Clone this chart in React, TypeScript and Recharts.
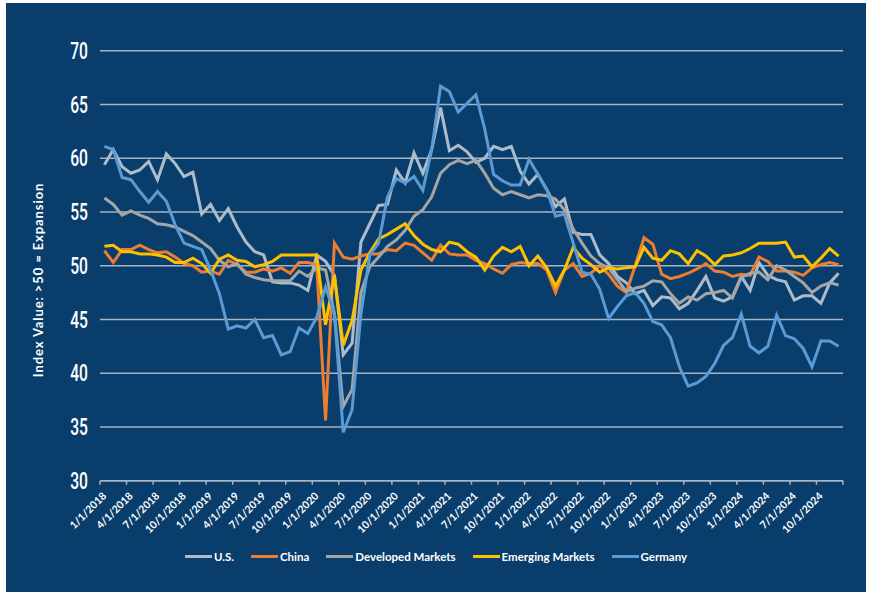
import { LineChart, Line, XAxis, YAxis, CartesianGrid } from "recharts";

// monthly readings, Jan 2018 .. Dec 2024
const months = Array.from({ length: 84 }, (_, i) => `${(i % 12) + 1}/1/${2018 + Math.floor(i / 12)}`);

const tickLabels = [
  "1/1/2018", "4/1/2018", "7/1/2018", "10/1/2018",
  "1/1/2019", "4/1/2019", "7/1/2019", "10/1/2019",
  "1/1/2020", "4/1/2020", "7/1/2020", "10/1/2020",
  "1/1/2021", "4/1/2021", "7/1/2021", "10/1/2021",
  "1/1/2022", "4/1/2022", "7/1/2022", "10/1/2022",
  "1/1/2023", "4/1/2023", "7/1/2023", "10/1/2023",
  "1/1/2024", "4/1/2024", "7/1/2024", "10/1/2024",
];

const yTicks = [30, 35, 40, 45, 50, 55, 60, 65, 70];

const us = [
  59.4, 60.8, 59.2, 58.6, 58.9, 59.7, 58.0, 60.4, 59.5, 58.3, 58.7, 54.8,
  55.7, 54.2, 55.3, 53.6, 52.2, 51.3, 51.0, 48.5, 48.4, 48.4, 48.2, 47.7,
  51.0, 50.4, 49.1, 41.7, 42.8, 52.2, 53.9, 55.6, 55.7, 58.9, 57.7, 60.5,
  58.6, 60.8, 64.7, 60.7, 61.2, 60.6, 59.6, 60.0, 61.1, 60.8, 61.1, 58.8,
  57.6, 58.5, 57.1, 55.5, 56.2, 53.1, 52.9, 52.9, 51.0, 50.2, 49.0, 48.4,
  47.4, 47.7, 46.3, 47.1, 47.0, 46.0, 46.5, 47.7, 49.0, 47.0, 46.7, 47.1,
  49.0, 47.7, 50.3, 49.1, 48.7, 48.5, 46.8, 47.2, 47.2, 46.5, 48.4, 49.3,
];

const china = [
  51.4, 50.3, 51.5, 51.5, 51.9, 51.5, 51.2, 51.3, 50.8, 50.2, 50.0, 49.4,
  49.5, 49.2, 50.5, 50.1, 49.4, 49.4, 49.7, 49.5, 49.8, 49.3, 50.3, 50.3,
  50.1, 35.6, 52.1, 50.8, 50.6, 50.9, 51.1, 51.1, 51.5, 51.4, 52.1, 51.9,
  51.2, 50.5, 51.9, 51.1, 51.0, 51.0, 50.5, 50.2, 49.7, 49.3, 50.1, 50.3,
  50.2, 50.2, 49.6, 47.5, 49.6, 50.2, 49.0, 49.3, 50.0, 49.2, 48.1, 47.5,
  50.0, 52.6, 52.0, 49.2, 48.8, 49.0, 49.3, 49.7, 50.2, 49.5, 49.4, 49.0,
  49.2, 49.1, 50.8, 50.4, 49.5, 49.5, 49.4, 49.1, 49.8, 50.1, 50.3, 50.1,
];

const developed = [
  56.3, 55.7, 54.7, 55.1, 54.7, 54.4, 53.9, 53.8, 53.6, 53.2, 52.8, 52.2,
  51.6, 50.5, 49.9, 50.2, 49.2, 48.9, 48.7, 48.6, 48.6, 48.6, 49.5, 49.0,
  49.8, 49.6, 45.5, 36.9, 38.5, 47.5, 49.9, 50.8, 51.8, 52.4, 53.3, 54.6,
  55.2, 56.4, 58.6, 59.4, 59.8, 59.5, 59.8, 58.6, 57.2, 56.6, 56.9, 56.6,
  56.3, 56.6, 56.5, 56.2, 55.2, 53.4, 52.1, 50.9, 50.2, 49.8, 48.7, 47.6,
  47.9, 48.1, 48.6, 48.5, 47.4, 46.5, 47.1, 46.8, 47.4, 47.5, 47.7, 47.0,
  48.9, 49.3, 49.4, 48.7, 50.0, 49.6, 49.0, 48.4, 47.5, 48.1, 48.4, 48.2,
];

const emerging = [
  51.8, 51.9, 51.3, 51.3, 51.1, 51.1, 51.0, 50.8, 50.3, 50.3, 50.7, 50.2,
  49.3, 50.6, 51.0, 50.5, 50.4, 49.9, 50.1, 50.4, 51.0, 51.0, 51.0, 51.0,
  51.0, 44.5, 49.1, 42.6, 44.9, 49.6, 51.2, 52.5, 52.9, 53.4, 53.9, 52.8,
  52.0, 51.5, 51.3, 52.2, 52.0, 51.3, 50.8, 49.6, 50.9, 51.7, 51.3, 51.8,
  50.0, 50.9, 49.8, 48.1, 49.6, 51.7, 50.7, 50.1, 49.4, 49.8, 49.7, 49.8,
  49.9, 51.7, 50.7, 50.5, 51.4, 51.1, 50.2, 51.4, 50.9, 50.1, 50.9, 51.0,
  51.2, 51.6, 52.1, 52.1, 52.1, 52.2, 50.8, 50.9, 49.9, 50.7, 51.6, 50.9,
];

const germany = [
  61.1, 60.8, 58.2, 58.0, 56.9, 55.9, 56.9, 56.0, 53.8, 52.1, 51.8, 51.5,
  49.6, 47.4, 44.1, 44.4, 44.2, 45.0, 43.3, 43.5, 41.7, 42.0, 44.2, 43.7,
  45.2, 48.0, 45.6, 34.5, 36.6, 45.5, 51.0, 52.1, 56.4, 58.1, 57.7, 58.3,
  57.0, 60.8, 66.7, 66.2, 64.3, 65.1, 65.9, 62.7, 58.5, 57.9, 57.5, 57.5,
  59.9, 58.5, 57.1, 54.6, 54.8, 52.1, 49.4, 49.2, 47.8, 45.1, 46.2, 47.2,
  47.5, 46.5, 44.8, 44.5, 43.3, 40.6, 38.8, 39.1, 39.7, 40.9, 42.6, 43.3,
  45.5, 42.5, 41.9, 42.5, 45.4, 43.5, 43.2, 42.3, 40.6, 43.0, 43.0, 42.5,
];

const seriesList = [
  { key: "us", name: "U.S.", color: "#adbccb" },
  { key: "china", name: "China", color: "#ed7d31" },
  { key: "dm", name: "Developed Markets", color: "#a5a5a5" },
  { key: "em", name: "Emerging Markets", color: "#ffc000" },
  { key: "germany", name: "Germany", color: "#5b9bd5" },
];

// x is placed mid-month so the quarter ticks sit between points, like the Excel date axis
const data = months.map((m, i) => ({
  x: i + 0.5,
  month: m,
  us: us[i],
  china: china[i],
  dm: developed[i],
  em: emerging[i],
  germany: germany[i],
}));

const xTicks = Array.from({ length: tickLabels.length + 1 }, (_, i) => i * 3);

const BG = "#093d6b";
const GRID = "#aab3bf";
const LABEL_FONT = "Lato, 'Open Sans', sans-serif";

function XTick(props: any) {
  const { x, y, payload } = props;
  const label = tickLabels[payload.value / 3] ?? "";
  const ax = x + 7;
  const ay = y + 12;
  return (
    <text
      x={ax}
      y={ay}
      transform={`rotate(-45, ${ax}, ${ay})`}
      textAnchor="end"
      fill="#ffffff"
      fontSize={10.5}
      fontWeight={700}
      fontFamily={LABEL_FONT}
    >
      {label}
    </text>
  );
}

function YTick(props: any) {
  const { x, y, payload } = props;
  return (
    <g transform={`translate(${x},${y})`}>
      <text
        transform="scale(0.68,1)"
        textAnchor="end"
        dy="0.36em"
        fill="#ffffff"
        fontSize={23}
        fontWeight={500}
        fontFamily="Roboto, sans-serif"
      >
        {payload.value}
      </text>
    </g>
  );
}

export default function App() {
  return (
    <div style={{ position: "absolute", left: 0, top: 0, width: 872, height: 598, background: "#ffffff" }}>
      <div style={{ position: "absolute", left: 6, top: 3, width: 860, height: 589, background: BG }}>
        <LineChart
          width={860}
          height={589}
          data={data}
          margin={{ top: 47.7, right: 23, bottom: 0, left: 0 }}
        >
          <CartesianGrid vertical={false} stroke={GRID} strokeWidth={1.5} />
          <XAxis
            type="number"
            dataKey="x"
            domain={[0, 84]}
            ticks={xTicks}
            interval={0}
            height={111.3}
            tickSize={4}
            tickMargin={0}
            tick={<XTick />}
            axisLine={{ stroke: GRID, strokeWidth: 1.5 }}
            tickLine={{ stroke: GRID, strokeWidth: 1.5 }}
          />
          <YAxis
            type="number"
            domain={[30, 70]}
            ticks={yTicks}
            width={94}
            axisLine={false}
            tickLine={false}
            tickSize={0}
            tickMargin={12}
            tick={<YTick />}
          />
          {seriesList.map((s) => (
            <Line
              key={s.key}
              type="linear"
              dataKey={s.key}
              name={s.name}
              stroke={s.color}
              strokeWidth={3}
              dot={false}
              isAnimationActive={false}
            />
          ))}
        </LineChart>

        {/* axis title */}
        <div
          style={{
            position: "absolute",
            left: 32,
            top: 277,
            transform: "translate(-50%, -50%) rotate(-90deg)",
            whiteSpace: "nowrap",
            color: "#ffffff",
            fontFamily: LABEL_FONT,
            fontWeight: 700,
            fontSize: 13,
            letterSpacing: 0.9,
          }}
        >
          Index Value: &gt;50 = Expansion
        </div>

        {/* legend */}
        <div
          style={{
            position: "absolute",
            left: 0,
            top: 547,
            width: 860,
            display: "flex",
            justifyContent: "center",
            gap: 17,
            color: "#ffffff",
            fontFamily: LABEL_FONT,
            fontWeight: 700,
            fontSize: 11.5,
          }}
        >
          {seriesList.map((s) => (
            <div key={s.key} style={{ display: "flex", alignItems: "center" }}>
              <span style={{ display: "inline-block", width: 27, height: 3, background: s.color, marginRight: 2 }} />
              <span>{s.name}</span>
            </div>
          ))}
        </div>
      </div>
    </div>
  );
}
